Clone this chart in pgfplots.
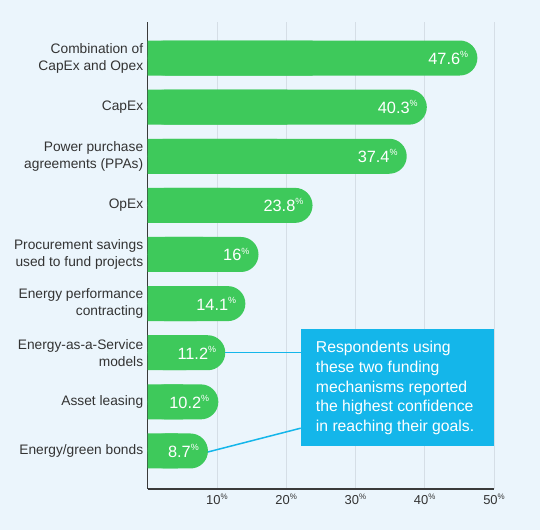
\documentclass[border=0pt]{standalone}
\usepackage{pgfplots}
\pgfplotsset{compat=1.18}
\usepackage{pgfplotstable}
\usepackage{fontspec}
\setmainfont{Liberation Sans}
\definecolor{bg}{HTML}{EBF5FC}
\definecolor{bargreen}{HTML}{3EC95B}
\definecolor{callout}{HTML}{14B6EA}
\definecolor{gridc}{HTML}{D5DEE6}
\definecolor{axisc}{HTML}{3A3A3A}
\definecolor{labc}{HTML}{333333}
\newcommand\pc[1]{\raisebox{0.42em}{\fontsize{#1}{#1}\selectfont\%}}
\pgfplotstableread{
pos v
0 47.6
1 40.3
2 37.4
3 23.8
4 16
5 14.1
6 11.2
7 10.2
8 8.7
}\data
\begin{document}
\begin{tikzpicture}
\fill[bg] (0,0) rectangle (540bp,530bp);
\begin{axis}[
  at={(147.7bp,41bp)}, anchor=south west,
  scale only axis, width=346.3bp, height=467bp,
  xmin=0, xmax=50, ymin=-0.733, ymax=8.774, y dir=reverse,
  axis x line*=bottom, axis y line*=left,
  axis line style={draw=axisc, line width=1.4bp, -},
  /pgf/number format/assume math mode=true,
  xtick={10,20,30,40,50},
  xticklabels={10\pc{8},20\pc{8},30\pc{8},40\pc{8},50\pc{8}},
  xticklabel style={font=\fontsize{13}{15}\selectfont, text=labc, yshift=-1bp},
  ytick={0,...,8},
  yticklabels={{Combination of\\CapEx and Opex},CapEx,{Power purchase\\agreements (PPAs)},OpEx,{Procurement savings\\used to fund projects},{Energy performance\\contracting},{Energy-as-a-Service\\models},Asset leasing,Energy/green bonds},
  yticklabel style={font=\fontsize{13.8}{17}\selectfont, text=labc, align=right, xshift=-1bp},
  major tick length=0pt,
  xmajorgrids, grid style={draw=gridc, line width=0.8bp},
  xbar, bar width=35bp, bar shift=0pt,
  clip=false,
]
\addplot[fill=bargreen, draw=none] table[x expr=\thisrow{v}/2, y=pos] {\data};
\addplot[fill=bargreen, draw=none, rounded corners=17.5bp,
  nodes near coords={\pgfmathprintnumber[assume math mode=true]{\pgfplotspointmeta}\pc{9}},
  point meta=x,
  nodes near coords style={anchor=east, inner sep=0pt, xshift=-9bp, text=white, font=\fontsize{16.4}{18}\selectfont, rounded corners=0pt}
] table[x=v, y=pos] {\data};
\draw[callout, line width=1.5bp] (axis cs:11.2,6) -- (axis cs:22.09,6);
\draw[callout, line width=1.5bp] (axis cs:8.7,8.02) -- (axis cs:22.09,7.536);
\fill[callout] (axis cs:22.09,5.52) rectangle (axis cs:50,7.896);
\node[anchor=north west, inner sep=0pt, align=left, text=white, font=\fontsize{15.8}{19.7}\selectfont] at ([xshift=15bp,yshift=-12bp]axis cs:22.09,5.52) {Respondents using\\these two funding\\mechanisms reported\\the highest confidence\\in reaching their goals.};
\end{axis}
\pgfresetboundingbox
\path (0,0) rectangle (540bp,530bp);
\end{tikzpicture}
\end{document}
